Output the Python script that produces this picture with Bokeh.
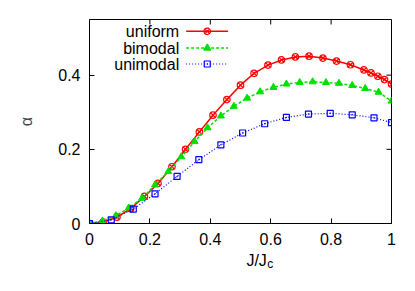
from bokeh.plotting import figure
from bokeh.layouts import column
from bokeh.models import Range1d, FixedTicker, Label, PrintfTickFormatter
from bokeh.embed import file_html
from bokeh.resources import INLINE

# ---------------- data ----------------
uniform_x = [0, 0.045, 0.091, 0.136, 0.182, 0.227, 0.273, 0.318, 0.364, 0.409,
             0.455, 0.5, 0.545, 0.591, 0.636, 0.682, 0.727, 0.773, 0.818, 0.864,
             0.909, 0.932, 0.955, 0.977, 1.0]
uniform_y = [0, 0.004, 0.017, 0.040, 0.073, 0.108, 0.153, 0.200, 0.247, 0.292,
             0.334, 0.373, 0.405, 0.427, 0.441, 0.449, 0.451, 0.446, 0.438, 0.428,
             0.414, 0.406, 0.397, 0.388, 0.376]

bimodal_x = [0, 0.043, 0.087, 0.130, 0.174, 0.217, 0.261, 0.304, 0.348, 0.391,
             0.435, 0.478, 0.522, 0.565, 0.609, 0.652, 0.696, 0.739, 0.783, 0.826,
             0.870, 0.913, 0.957, 1.0]
bimodal_y = [0, 0.007, 0.021, 0.042, 0.068, 0.104, 0.140, 0.180, 0.221, 0.258,
             0.290, 0.316, 0.338, 0.355, 0.367, 0.376, 0.380, 0.382, 0.380, 0.378,
             0.372, 0.364, 0.354, 0.330]

unimodal_x = [0, 0.072, 0.145, 0.217, 0.290, 0.362, 0.435, 0.507, 0.580, 0.652,
              0.725, 0.797, 0.870, 0.942, 1.0]
unimodal_y = [0, 0.010, 0.039, 0.080, 0.127, 0.172, 0.212, 0.244, 0.269, 0.286,
              0.295, 0.297, 0.293, 0.285, 0.272]

series_names = ["uniform", "bimodal", "unimodal"]
x_ticks = [0, 0.2, 0.4, 0.6, 0.8, 1.0]
y_ticks = [0, 0.2, 0.4]
x_label_main = "J/J"
x_label_sub = "c"
y_label = "α"

# ---------------- styles / layout ----------------
FONT = "Liberation Sans"
RED, GREEN, BLUE = "#ff0000", "#00e000", "#0000ff"
X0, X1, Y0, Y1 = 0, 1, 0, 0.55
FW, FH = 302, 204
BL, BT, BR, BB = 89, 19, 16, 30
W = BL + FW + BR
TICK = 5  # px

p = figure(frame_width=FW, frame_height=FH, output_backend="svg",
           toolbar_location=None, min_border_left=BL, min_border_top=BT,
           min_border_right=BR, min_border_bottom=BB,
           x_range=Range1d(X0, X1), y_range=Range1d(Y0, Y1))
p.background_fill_color = "white"
p.border_fill_color = "white"
p.outline_line_color = "black"
p.outline_line_width = 1
p.grid.visible = False

fmt = PrintfTickFormatter(format="%g")
for ax in (p.xaxis[0], p.yaxis[0]):
    ax.major_tick_in = TICK
    ax.major_tick_out = 0
    ax.minor_tick_in = 0
    ax.minor_tick_out = 0
    ax.axis_line_color = "black"
    ax.major_tick_line_color = "black"
    ax.major_label_text_font = FONT
    ax.major_label_text_font_size = "16px"
    ax.major_label_text_color = "black"
    ax.formatter = fmt
p.xaxis[0].ticker = FixedTicker(ticks=x_ticks)
p.yaxis[0].ticker = FixedTicker(ticks=y_ticks)
p.xaxis[0].major_label_standoff = 9
p.yaxis[0].major_label_standoff = 9
p.yaxis[0].axis_label = y_label
p.yaxis[0].axis_label_text_font = FONT
p.yaxis[0].axis_label_text_font_style = "normal"
p.yaxis[0].axis_label_text_font_size = "16px"
p.yaxis[0].axis_label_standoff = 20

# mirrored ticks on top and right edges of the frame
dy = TICK * (Y1 - Y0) / FH
dx = TICK * (X1 - X0) / FW
p.segment(x0=x_ticks, y0=[Y1] * len(x_ticks), x1=x_ticks,
          y1=[Y1 - dy] * len(x_ticks), line_color="black", line_width=1)
p.segment(x0=[X1] * len(y_ticks), y0=y_ticks, x1=[X1 - dx] * len(y_ticks),
          y1=y_ticks, line_color="black", line_width=1)

# series
p.line(uniform_x, uniform_y, line_color=RED, line_width=1.5)
p.scatter(uniform_x, uniform_y, marker="circle_x", size=6.5, line_color=RED,
          fill_color=None, line_width=1.2)
p.line(bimodal_x, bimodal_y, line_color=GREEN, line_width=1.5, line_dash="3 2")
p.scatter(bimodal_x, bimodal_y, marker="triangle", size=7, line_color=GREEN,
          fill_color=GREEN)
p.line(unimodal_x, unimodal_y, line_color=BLUE, line_width=1.2, line_dash="1 2")
p.scatter(unimodal_x, unimodal_y, marker="square_dot", size=6, line_color=BLUE,
          fill_color=None, line_width=1.2)

# legend (key samples drawn at legend layout positions)
leg_rows = [0.518, 0.473, 0.430]
leg_text_x = 0.297
leg_x0, leg_x1, leg_xm = 0.320, 0.459, 0.390
styles = [
    dict(color=RED, dash="solid", width=1.5, marker="circle_x", fill=None, size=6.5),
    dict(color=GREEN, dash="3 2", width=1.5, marker="triangle", fill=GREEN, size=7),
    dict(color=BLUE, dash="1 2", width=1.2, marker="square_dot", fill=None, size=6),
]
for name, yy, st in zip(series_names, leg_rows, styles):
    p.add_layout(Label(x=leg_text_x, y=yy, text=name, text_align="right",
                       text_baseline="middle", text_font=FONT,
                       text_font_size="16px", text_color="black"))
    p.line([leg_x0, leg_x1], [yy, yy], line_color=st["color"],
           line_width=st["width"], line_dash=st["dash"])
    p.scatter([leg_xm], [yy], marker=st["marker"], size=st["size"],
              line_color=st["color"], fill_color=st["fill"], line_width=1.2)

# x-axis label strip (J/J with subscript c) below the plot
LH = 22
q = figure(width=W, height=LH, output_backend="svg", toolbar_location=None,
           min_border=0, x_range=Range1d(0, W), y_range=Range1d(0, LH),
           x_axis_type=None, y_axis_type=None)
q.grid.visible = False
q.outline_line_color = None
q.background_fill_color = "white"
q.border_fill_color = "white"
q.add_layout(Label(x=239, y=15, text=x_label_main, text_align="right",
                   text_baseline="alphabetic", text_font=FONT,
                   text_font_size="16px", text_color="black"))
q.add_layout(Label(x=239.5, y=11.5, text=x_label_sub, text_align="left",
                   text_baseline="alphabetic", text_font=FONT,
                   text_font_size="12px", text_color="black"))

open("out.html", "w").write(file_html(column(p, q, spacing=0), INLINE))
